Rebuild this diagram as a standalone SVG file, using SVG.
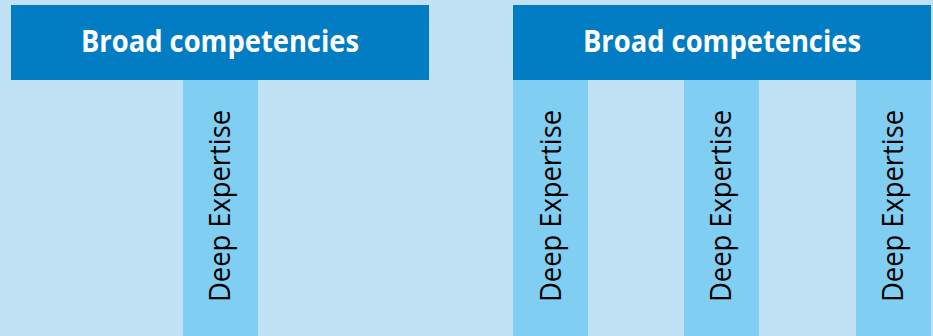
<svg xmlns="http://www.w3.org/2000/svg" width="933" height="336" viewBox="0 0 933 336">
  <style>
    .bg { fill: #c1e2f4; }
    .head { fill: #027cc2; }
    .col { fill: #80cff3; }
    .htxt { font-family: "Open Sans", "Liberation Sans", sans-serif; font-weight: bold; font-size: 31px; fill: #ffffff; text-anchor: middle; }
    .vtxt { font-family: "Open Sans", "Liberation Sans", sans-serif; font-size: 30px; fill: #000000; text-anchor: middle; }
  </style>
  <rect class="bg" x="0" y="0" width="933" height="336"/>

  <!-- T-shaped profile: one broad bar, one deep column -->
  <g id="left-columns">
    <g id="left-deep">
      <rect class="col" x="183" y="80" width="75" height="256"/>
      <text class="vtxt" transform="translate(230,206) rotate(-90)" textLength="192" lengthAdjust="spacingAndGlyphs">Deep Expertise</text>
    </g>
  </g>
  <g id="left-broad">
    <rect class="head" x="11" y="5" width="418" height="75"/>
    <text class="htxt" x="220" y="52" textLength="278" lengthAdjust="spacingAndGlyphs">Broad competencies</text>
  </g>

  <!-- Comb-shaped profile: one broad bar, three deep columns -->
  <g id="right-deep-1">
    <rect class="col" x="513" y="80" width="75" height="256"/>
    <text class="vtxt" transform="translate(561,206) rotate(-90)" textLength="192" lengthAdjust="spacingAndGlyphs">Deep Expertise</text>
  </g>
  <g id="right-deep-2">
    <rect class="col" x="684" y="80" width="75" height="256"/>
    <text class="vtxt" transform="translate(731,206) rotate(-90)" textLength="192" lengthAdjust="spacingAndGlyphs">Deep Expertise</text>
  </g>
  <g id="right-deep-3">
    <rect class="col" x="856" y="80" width="75" height="256"/>
    <text class="vtxt" transform="translate(903,206) rotate(-90)" textLength="192" lengthAdjust="spacingAndGlyphs">Deep Expertise</text>
  </g>
  <g id="right-broad">
    <rect class="head" x="513" y="5" width="418" height="75"/>
    <text class="htxt" x="722" y="52" textLength="278" lengthAdjust="spacingAndGlyphs">Broad competencies</text>
  </g>

  <g id="connectors"/>
</svg>
